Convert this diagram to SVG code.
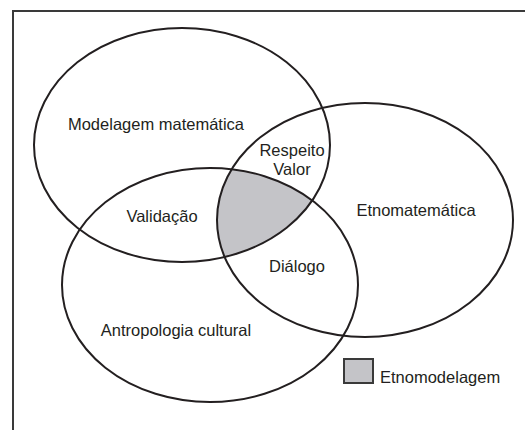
<svg xmlns="http://www.w3.org/2000/svg" width="525" height="430" viewBox="0 0 525 430">
  <style>
    .ring { fill: none; stroke: #231f20; stroke-width: 2; }
    .lbl { font-family: "Liberation Sans", Arial, sans-serif; font-size: 16.5px; fill: #231f20; text-anchor: middle; }
    .frame { fill: none; stroke: #3a3a3a; stroke-width: 2; }
    .shade { fill: #c4c4c8; }
  </style>
  <defs>
    <clipPath id="clipE2">
      <ellipse cx="365" cy="220" rx="148" ry="117"/>
    </clipPath>
    <clipPath id="clipE3">
      <ellipse cx="210" cy="285" rx="148" ry="117"/>
    </clipPath>
  </defs>
  <rect width="525" height="430" fill="#ffffff"/>
  <g id="frame">
    <path class="frame" d="M13,430 L13,11 L525,11"/>
  </g>
  <g id="etnomodelagem-area">
    <g clip-path="url(#clipE3)">
      <g clip-path="url(#clipE2)">
        <ellipse class="shade" cx="182" cy="145" rx="148" ry="117"/>
      </g>
    </g>
  </g>
  <g id="modelagem">
    <ellipse class="ring" cx="182" cy="145" rx="148" ry="117"/>
    <text class="lbl" x="156" y="130">Modelagem matemática</text>
  </g>
  <g id="etnomatematica">
    <ellipse class="ring" cx="365" cy="220" rx="148" ry="117"/>
    <text class="lbl" x="416" y="216">Etnomatemática</text>
  </g>
  <g id="antropologia">
    <ellipse class="ring" cx="210" cy="285" rx="148" ry="117"/>
    <text class="lbl" x="176" y="336">Antropologia cultural</text>
  </g>
  <g id="respeito-valor">
    <text class="lbl" x="292" y="156">Respeito</text>
    <text class="lbl" x="292" y="175">Valor</text>
  </g>
  <g id="validacao">
    <text class="lbl" x="162" y="222">Validação</text>
  </g>
  <g id="dialogo">
    <text class="lbl" x="297" y="272">Diálogo</text>
  </g>
  <g id="legend">
    <rect x="344" y="359" width="29" height="24" fill="#c4c4c8" stroke="#3a3a3a" stroke-width="2"/>
    <text class="lbl" x="380" y="383" style="text-anchor:start">Etnomodelagem</text>
  </g>
</svg>
